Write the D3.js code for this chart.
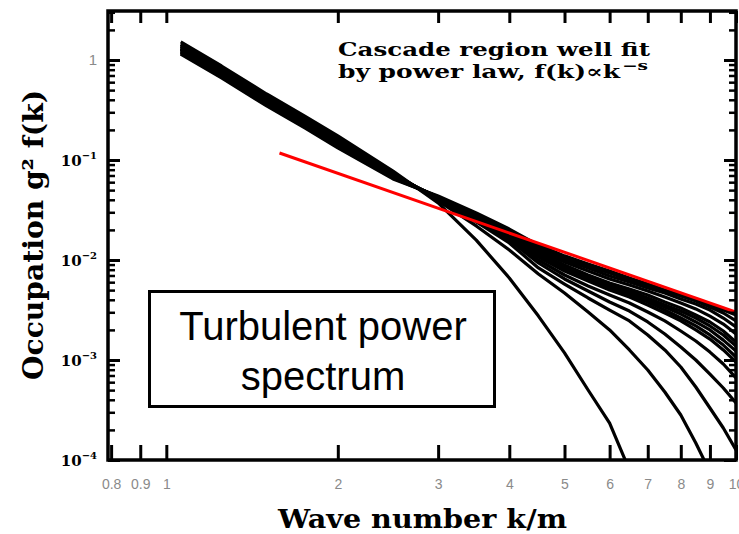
<!DOCTYPE html>
<html lang="en">
<head>
<meta charset="utf-8">
<title>Turbulent power spectrum</title>
<script src="https://d3js.org/d3.v7.min.js"></script>
<style>
  body { margin: 0; background: #fff; }
  svg { display: block; }
</style>
</head>
<body>
<svg width="739" height="534"></svg>
<script>
const waveNumbers = [1.06, 1.25, 1.5, 1.75, 2, 2.5, 3, 3.5, 4, 4.5, 5, 5.5, 6, 6.5, 7, 7.5, 8, 8.5, 9, 9.5, 10];

// g^2 f(k) snapshots, latest first (null = fallen below the plot)
const spectra = [
  [1.148, 0.661, 0.347, 0.209, 0.132, 0.0646, 0.0437, 0.0295, 0.0204, 0.0141, 0.0110, 0.00912, 0.00776, 0.00661, 0.00575, 0.00501, 0.00447, 0.00398, 0.00355, 0.00316, 0.00282],
  [1.175, 0.676, 0.355, 0.214, 0.135, 0.0661, 0.0427, 0.0288, 0.0200, 0.0135, 0.0105, 0.00871, 0.00741, 0.00631, 0.00550, 0.00490, 0.00437, 0.00389, 0.00339, 0.00295, 0.00246],
  [1.202, 0.692, 0.363, 0.219, 0.138, 0.0676, 0.0427, 0.0282, 0.0195, 0.0129, 0.0100, 0.00832, 0.00692, 0.00603, 0.00525, 0.00468, 0.00407, 0.00363, 0.00316, 0.00263, 0.00214],
  [1.230, 0.708, 0.372, 0.224, 0.141, 0.0676, 0.0427, 0.0282, 0.0191, 0.0123, 0.00955, 0.00776, 0.00646, 0.00562, 0.00490, 0.00427, 0.00372, 0.00324, 0.00275, 0.00229, 0.00182],
  [1.259, 0.724, 0.380, 0.229, 0.145, 0.0692, 0.0417, 0.0275, 0.0186, 0.0118, 0.00891, 0.00708, 0.00589, 0.00513, 0.00447, 0.00380, 0.00331, 0.00282, 0.00240, 0.00195, 0.00151],
  [1.270, 0.732, 0.385, 0.231, 0.146, 0.0692, 0.0417, 0.0269, 0.0182, 0.0115, 0.00851, 0.00676, 0.00562, 0.00490, 0.00417, 0.00355, 0.00309, 0.00263, 0.00219, 0.00178, 0.00138],
  [1.288, 0.741, 0.389, 0.234, 0.148, 0.0692, 0.0417, 0.0269, 0.0178, 0.0112, 0.00832, 0.00661, 0.00550, 0.00468, 0.00398, 0.00339, 0.00288, 0.00240, 0.00200, 0.00158, 0.00123],
  [1.300, 0.750, 0.393, 0.237, 0.150, 0.0700, 0.0417, 0.0263, 0.0174, 0.0110, 0.00794, 0.00631, 0.00525, 0.00447, 0.00380, 0.00316, 0.00263, 0.00219, 0.00178, 0.00141, 0.00107],
  [1.318, 0.759, 0.398, 0.240, 0.151, 0.0708, 0.0417, 0.0263, 0.0174, 0.0107, 0.00776, 0.00617, 0.00501, 0.00427, 0.00355, 0.00295, 0.00246, 0.00200, 0.00162, 0.00126, 0.000955],
  [1.349, 0.776, 0.407, 0.246, 0.155, 0.0724, 0.0407, 0.0257, 0.0166, 0.0100, 0.00708, 0.00550, 0.00447, 0.00372, 0.00302, 0.00246, 0.00195, 0.00155, 0.00120, 0.000912, 0.000661],
  [1.380, 0.794, 0.417, 0.251, 0.158, 0.0724, 0.0407, 0.0251, 0.0158, 0.00933, 0.00646, 0.00490, 0.00380, 0.00309, 0.00240, 0.00182, 0.00135, 0.00100, 0.000724, 0.000525, 0.000372],
  [1.413, 0.813, 0.427, 0.257, 0.162, 0.0741, 0.0398, 0.0240, 0.0148, 0.00832, 0.00575, 0.00417, 0.00316, 0.00246, 0.00178, 0.00126, 0.000851, 0.000537, 0.000331, 0.000209, 0.000126],
  [1.445, 0.832, 0.437, 0.263, 0.166, 0.0741, 0.0389, 0.0219, 0.0126, 0.00724, 0.00468, 0.00302, 0.00200, 0.00126, 0.000794, 0.000479, 0.000282, 0.000148, 0.0000759, null, null],
  [1.514, 0.871, 0.457, 0.275, 0.174, 0.0776, 0.0372, 0.0158, 0.00661, 0.00275, 0.00118, 0.000501, 0.000234, 0.0000794, null, null, null, null, null, null, null]
];

// power-law fit (red line), end points
const fitK = [1.58, 10];
const fitF = [0.1175, 0.00302];

const xTickValues = [0.8, 0.9, 1, 2, 3, 4, 5, 6, 7, 8, 9, 10];
const yDecades = [1e-4, 1e-3, 1e-2, 1e-1, 1];
const yDecadeExps = ["-4", "-3", "-2", "-1", ""];

const svg = d3.select("svg");
const x = d3.scaleLog().domain([0.79, 10]).range([108, 736]);
const y = d3.scaleLog().domain([1e-4, 3.09]).range([460, 11]);

svg.append("defs").append("clipPath").attr("id", "plot")
  .append("rect").attr("x", 108).attr("y", 11).attr("width", 628).attr("height", 449);

const line = d3.line()
  .defined(d => d[1] != null)
  .x(d => x(d[0]))
  .y(d => y(d[1]));

const plot = svg.append("g").attr("clip-path", "url(#plot)");

plot.selectAll("path.spec")
  .data(spectra)
  .join("path")
  .attr("class", "spec")
  .attr("d", s => line(s.map((v, i) => [waveNumbers[i], v])))
  .attr("fill", "none")
  .attr("stroke", "#000")
  .attr("stroke-width", 3.2)
  .attr("stroke-linejoin", "round");

plot.append("path")
  .attr("d", line(fitK.map((k, i) => [k, fitF[i]])))
  .attr("fill", "none")
  .attr("stroke", "#ff0000")
  .attr("stroke-width", 3);

// axes, ticks pointing inward on all four sides
const yMinor = y.ticks().filter(v => !yDecades.some(d => Math.abs(v / d - 1) < 1e-6));

function styleAxis(g, w) {
  g.select(".domain").remove();
  g.selectAll(".tick line").attr("stroke", "#000").attr("stroke-width", w);
}

svg.append("g").attr("transform", "translate(0,460)")
  .call(d3.axisBottom(x).tickValues(xTickValues).tickFormat(d3.format("~g"))
    .tickSize(-15).tickSizeOuter(0).tickPadding(19))
  .call(g => styleAxis(g, 3))
  .call(g => g.selectAll(".tick text")
    .attr("fill", "#8a8a8a").attr("font-family", "Liberation Sans, Arial, sans-serif")
    .attr("font-size", 14));

svg.append("g").attr("transform", "translate(0,11)")
  .call(d3.axisTop(x).tickValues(xTickValues).tickFormat("").tickSize(-12).tickSizeOuter(0))
  .call(g => styleAxis(g, 3));

[[108, d3.axisLeft], [736, d3.axisRight]].forEach(([px, axis]) => {
  svg.append("g").attr("transform", `translate(${px},0)`)
    .call(axis(y).tickValues(yDecades).tickFormat("").tickSize(-12).tickSizeOuter(0))
    .call(g => styleAxis(g, 3));
  svg.append("g").attr("transform", `translate(${px},0)`)
    .call(axis(y).tickValues(yMinor).tickFormat("").tickSize(-7).tickSizeOuter(0))
    .call(g => styleAxis(g, 2.5));
});

svg.append("rect")
  .attr("x", 108).attr("y", 11).attr("width", 628).attr("height", 449)
  .attr("fill", "none").attr("stroke", "#000").attr("stroke-width", 3.5);

// y tick labels
const yLab = svg.append("g");
yDecades.forEach((d, i) => {
  if (yDecadeExps[i] === "") {
    yLab.append("text").attr("x", 97).attr("y", y(d) + 5)
      .attr("text-anchor", "end").attr("fill", "#8a8a8a")
      .attr("font-family", "Liberation Sans, Arial, sans-serif").attr("font-size", 15)
      .text("1");
  } else {
    const t = yLab.append("text").attr("x", 97).attr("y", y(d) + 6)
      .attr("text-anchor", "end").attr("fill", "#000")
      .attr("font-family", "DejaVu Serif, serif").attr("font-weight", "bold");
    t.append("tspan").attr("font-size", 15).text("10");
    t.append("tspan").attr("font-size", 10).attr("dy", -7).text(yDecadeExps[i].replace("-", "\u2212"));
  }
});

// axis titles
svg.append("text")
  .attr("x", 278).attr("y", 528)
  .attr("font-family", "DejaVu Serif, serif").attr("font-weight", "bold").attr("font-size", 26)
  .attr("textLength", 289).attr("lengthAdjust", "spacingAndGlyphs")
  .text("Wave number k/m");

svg.append("text")
  .attr("transform", "translate(43,380) rotate(-90)")
  .attr("font-family", "DejaVu Serif, serif").attr("font-weight", "bold").attr("font-size", 28)
  .attr("textLength", 290).attr("lengthAdjust", "spacingAndGlyphs")
  .text("Occupation g\u00b2 f(k)");

// annotation
const note = svg.append("g")
  .attr("font-family", "DejaVu Serif, serif").attr("font-weight", "bold");
note.append("text").attr("x", 338).attr("y", 56).attr("font-size", 19)
  .attr("textLength", 312).attr("lengthAdjust", "spacingAndGlyphs")
  .text("Cascade region well fit");
note.append("text").attr("x", 338).attr("y", 78).attr("font-size", 19)
  .attr("textLength", 282).attr("lengthAdjust", "spacingAndGlyphs")
  .text("by power law, f(k)\u221dk");
note.append("text").attr("x", 622).attr("y", 70).attr("font-size", 12)
  .attr("textLength", 26).attr("lengthAdjust", "spacingAndGlyphs")
  .text("\u2212s");

// boxed label
svg.append("rect")
  .attr("x", 149.5).attr("y", 291.5).attr("width", 345).attr("height", 115)
  .attr("fill", "#fff").attr("stroke", "#000").attr("stroke-width", 3);

svg.append("g")
  .attr("font-family", "Liberation Sans, Arial, sans-serif").attr("font-size", 40)
  .attr("text-anchor", "middle").attr("fill", "#000")
  .selectAll("text")
  .data(["Turbulent power", "spectrum"])
  .join("text")
  .attr("x", 323)
  .attr("y", (d, i) => 340 + i * 50)
  .text(d => d);
</script>
</body>
</html>
